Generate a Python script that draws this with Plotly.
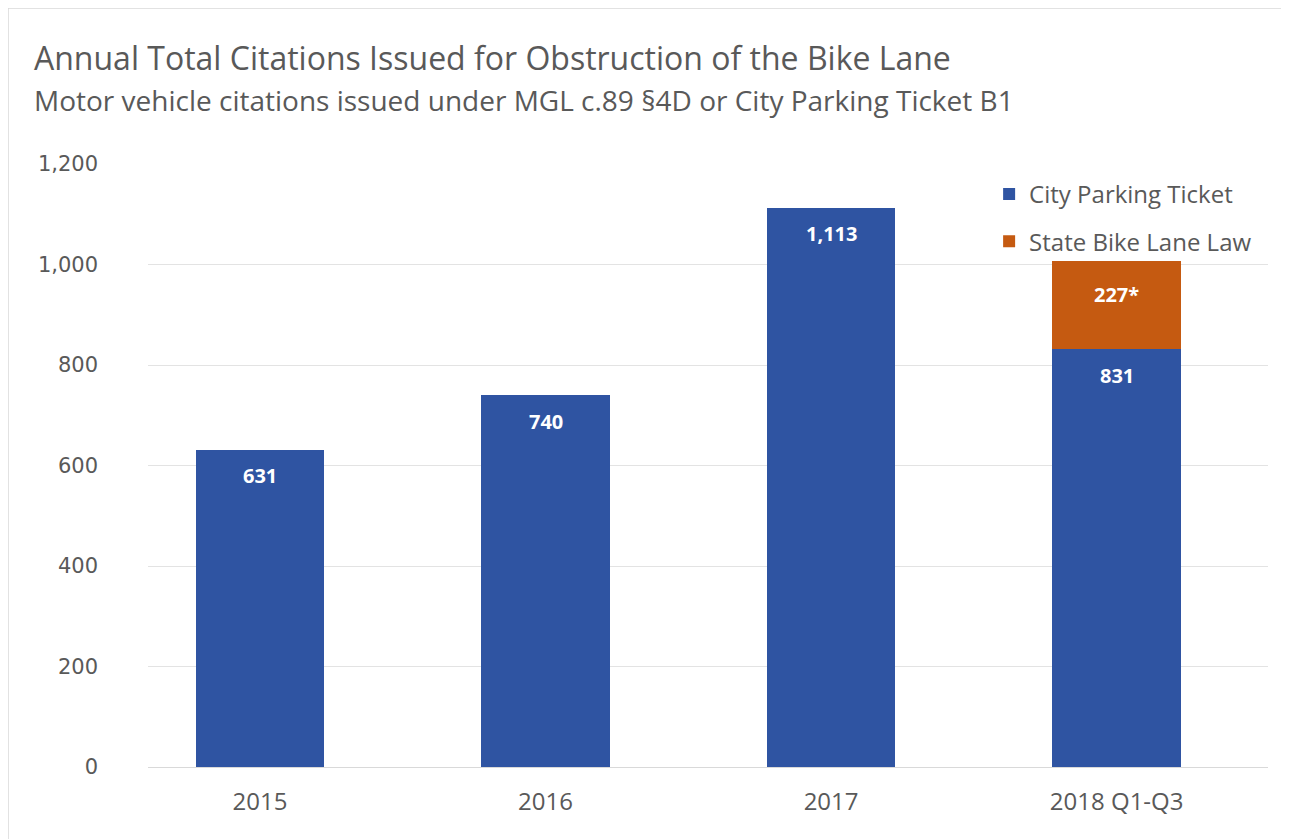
import plotly.graph_objects as go

categories = ["2015", "2016", "2017", "2018 Q1-Q3"]
city_values = [631, 740, 1113, 831]
city_labels = ["631", "740", "1,113", "831"]
state_values = [0, 0, 0, 175]
state_labels = ["", "", "", "227*"]
y_ticks = [0, 200, 400, 600, 800, 1000, 1200]
y_tick_labels = ["0", "200", "400", "600", "800", "1,000", "1,200"]

BLUE = "#2F54A2"
ORANGE = "#C55A11"
GREY = "#595959"
FONT = "'Open Sans', 'Noto Sans', sans-serif"

fig = go.Figure()
fig.add_trace(go.Bar(
    x=categories, y=city_values, name="City Parking Ticket",
    marker=dict(color=BLUE, line=dict(width=0)), width=0.45,
    legendgroup="a",
))
fig.add_trace(go.Bar(
    x=categories, y=state_values, name="State Bike Lane Law",
    marker=dict(color=ORANGE, line=dict(width=0)), width=0.45,
    legendgroup="b",
))

annotations = []
for i, (v, t) in enumerate(zip(city_values, city_labels)):
    annotations.append(dict(x=i, y=v, xref="x", yref="y", text=f"<b>{t}</b>", showarrow=False,
                            yshift=-26, font=dict(color="white", size=20, family=FONT)))
for i, (b, v, t) in enumerate(zip(city_values, state_values, state_labels)):
    if t:
        annotations.append(dict(x=i, y=b + v, xref="x", yref="y", text=f"<b>{t}</b>", showarrow=False,
                                yshift=-33, font=dict(color="white", size=20, family=FONT)))

annotations.append(dict(xref="paper", yref="paper", x=-0.104, y=1.176, xanchor="left", yanchor="middle",
                        text="Annual Total Citations Issued for Obstruction of the Bike Lane",
                        showarrow=False, font=dict(size=32, color=GREY, family=FONT)))
annotations.append(dict(xref="paper", yref="paper", x=-0.104, y=1.106, xanchor="left", yanchor="middle",
                        text="Motor vehicle citations issued under MGL c.89 §4D or City Parking Ticket B1",
                        showarrow=False, font=dict(size=28, color=GREY, family=FONT)))

fig.update_layout(
    width=1281, height=831,
    margin=dict(l=140, r=21, t=156, b=72),
    barmode="stack",
    paper_bgcolor="white", plot_bgcolor="white",
    font=dict(family=FONT, color=GREY),
    xaxis=dict(type="category", range=[-0.392, 3.53], showgrid=False, zeroline=False,
               showline=True, linecolor="#D9D9D9", linewidth=1,
               tickfont=dict(size=24, color=GREY, family=FONT), ticks="", ticklabelstandoff=13),
    yaxis=dict(range=[0, 1200], tickvals=y_ticks, ticktext=y_tick_labels,
               showgrid=True, gridcolor="#E3E3E3", zeroline=False,
               tickfont=dict(size=21, color=GREY, family="'DejaVu Sans', sans-serif"),
               ticklabelstandoff=49),
    legend=dict(x=0.751, y=0.987, xanchor="left", yanchor="top",
                traceorder="grouped", tracegroupgap=13,
                font=dict(size=24, color=GREY, family=FONT), bgcolor="rgba(0,0,0,0)"),
    annotations=annotations,
    shapes=[dict(type="rect", xref="paper", yref="paper",
                 x0=-0.125, x1=1.0134, y0=-0.3, y1=1.2587,
                 line=dict(color="#D9D9D9", width=1.5), fillcolor="rgba(0,0,0,0)", layer="below")],
)

fig.write_html("out.html")
